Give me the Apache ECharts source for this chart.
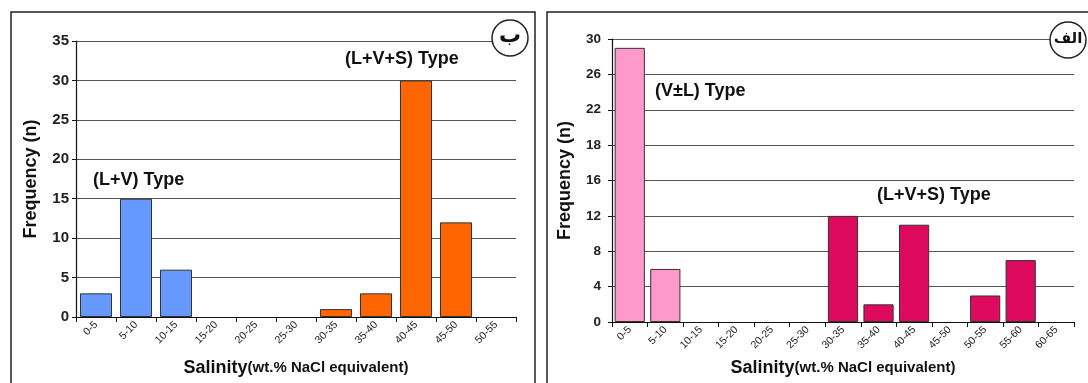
<!DOCTYPE html>
<html><head><meta charset="utf-8">
<script src="https://cdn.jsdelivr.net/npm/echarts@6/dist/echarts.min.js"></script>
<style>html,body{margin:0;padding:0;background:#fff}#c{width:1088px;height:383px}</style>
</head><body><div id="c"></div>
<script>
// Left panel (ب)
const catsB = ['0-5','5-10','10-15','15-20','20-25','25-30','30-35','35-40','40-45','45-50','50-55'];
const lvB   = [3, 15, 6, null, null, null, null, null, null, null, null];      // (L+V) Type
const lvsB  = [null, null, null, null, null, null, 1, 3, 30, 12, null];       // (L+V+S) Type
// Right panel (الف)
const catsA = ['0-5','5-10','10-15','15-20','20-25','25-30','30-35','35-40','40-45','45-50','50-55','55-60','60-65'];
const vlA   = [29, 6, null, null, null, null, null, null, null, null, null, null, null];   // (V±L) Type
const lvsA  = [null, null, null, null, null, null, 12, 2, 11, null, 3, 7, null];          // (L+V+S) Type
const yTicksA = [0, 4, 8, 12, 16, 18, 22, 26, 30];   // right panel's (uneven) tick labels

// right panel's axis is evenly spaced in tick index: map a value onto that scale
function toIdx(v){
  if (v == null) return null;
  for (let i = 0; i < yTicksA.length - 1; i++){
    const a = yTicksA[i], b = yTicksA[i+1];
    if (v >= a && v <= b) return i + (v - a) / (b - a);
  }
  return yTicksA.length - 1;
}

const FONT = '"Liberation Sans", Arial, sans-serif';
const chart = echarts.init(document.getElementById('c'), null, {renderer:'canvas'});

function xAxisCfg(cats, gi, gap){
  return {
    type:'category', gridIndex:gi, data:cats,
    axisLine:{lineStyle:{color:'#111', width:1.2}},
    axisTick:{show:true, alignWithLabel:false, length:5, lineStyle:{color:'#111'}},
    axisLabel:{rotate:45, fontSize:10.5, color:'#222', fontFamily:FONT, margin:6, interval:0},
    name:'{a|Salinity}{b|(wt.% NaCl equivalent)}', nameLocation:'middle', nameGap:gap,
    nameTextStyle:{rich:{
      a:{fontSize:18, fontWeight:'bold', fontFamily:FONT, color:'#111'},
      b:{fontSize:15, fontWeight:'bold', fontFamily:FONT, color:'#111'}}}
  };
}
function yAxisCfg(gi, extra){
  return Object.assign({
    type:'value', gridIndex:gi,
    axisLine:{show:true, lineStyle:{color:'#111', width:1.2}},
    axisTick:{show:true, inside:false, length:4, lineStyle:{color:'#111'}},
    splitLine:{show:true, lineStyle:{color:'#555', width:1}},
    axisLabel:{fontSize:15, fontWeight:'bold', color:'#222', fontFamily:FONT, margin:7},
    name:'Frequency (n)', nameLocation:'middle', nameGap:36,
    nameTextStyle:{fontSize:18, fontWeight:'bold', fontFamily:FONT, color:'#111'}
  }, extra);
}
const barBorder = {borderColor:'#333', borderWidth:1};

chart.setOption({
  animation:false,
  grid:[
    {left:76, right:572, top:41, bottom:66, outerBoundsMode:'none', containLabel:false},
    {left:612, right:14, top:39, bottom:61, outerBoundsMode:'none', containLabel:false}
  ],
  xAxis:[xAxisCfg(catsB,0,42), xAxisCfg(catsA,1,37)],
  yAxis:[
    yAxisCfg(0,{min:0, max:35, interval:5}),
    yAxisCfg(1,{min:0, max:8, interval:1,
      axisLabel:{fontSize:13.5, fontWeight:'bold', color:'#222', fontFamily:FONT, margin:11,
        formatter:(v)=> String(yTicksA[Math.round(v)])},
      nameGap:38})
  ],
  series:[
    {type:'bar', name:'(L+V) Type', xAxisIndex:0, yAxisIndex:0, data:lvB, barCategoryGap:'20%', barGap:'-100%',
      itemStyle:Object.assign({color:'#6699FF'}, barBorder)},
    {type:'bar', name:'(L+V+S) Type', xAxisIndex:0, yAxisIndex:0, data:lvsB, barCategoryGap:'20%', barGap:'-100%',
      itemStyle:Object.assign({color:'#FF6600'}, barBorder)},
    {type:'bar', name:'(V±L) Type', xAxisIndex:1, yAxisIndex:1, data:vlA.map(toIdx), barCategoryGap:'15%', barGap:'-100%',
      itemStyle:Object.assign({color:'#FF99CC'}, barBorder)},
    {type:'bar', name:'(L+V+S) Type', xAxisIndex:1, yAxisIndex:1, data:lvsA.map(toIdx), barCategoryGap:'15%', barGap:'-100%',
      itemStyle:Object.assign({color:'#DE0A5E'}, barBorder)}
  ],
  graphic:[
    // panel frames
    {type:'polyline', shape:{points:[[11,383],[11,12],[535,12],[535,383]]}, style:{stroke:'#222', lineWidth:1.5, fill:null}, silent:true},
    {type:'polyline', shape:{points:[[547,383],[547,12],[1088,12]]}, style:{stroke:'#222', lineWidth:1.5, fill:null}, silent:true},
    // panel markers
    {type:'circle', shape:{cx:510, cy:38, r:18}, style:{fill:'#fff', stroke:'#222', lineWidth:1.5}, z:100},
    {type:'text', x:510, y:36, z:101, style:{text:'ب', fontSize:22, fontWeight:'bold', fontFamily:'"DejaVu Sans", sans-serif', fill:'#111', align:'center', verticalAlign:'middle'}},
    {type:'circle', shape:{cx:1068, cy:40, r:18}, style:{fill:'#fff', stroke:'#222', lineWidth:1.5}, z:100},
    {type:'text', x:1068, y:39, z:101, style:{text:'الف', fontSize:15, fontWeight:'bold', fontFamily:'"DejaVu Sans", sans-serif', fill:'#111', align:'center', verticalAlign:'middle'}},
    // annotations
    {type:'text', x:93, y:180, z:50, style:{text:'(L+V) Type', fontSize:18, fontWeight:'bold', fontFamily:FONT, fill:'#111', verticalAlign:'middle'}},
    {type:'text', x:345, y:59, z:50, style:{text:'(L+V+S) Type', fontSize:18, fontWeight:'bold', fontFamily:FONT, fill:'#111', verticalAlign:'middle'}},
    {type:'text', x:655, y:91, z:50, style:{text:'(V±L) Type', fontSize:18, fontWeight:'bold', fontFamily:FONT, fill:'#111', verticalAlign:'middle'}},
    {type:'text', x:877, y:195, z:50, style:{text:'(L+V+S) Type', fontSize:18, fontWeight:'bold', fontFamily:FONT, fill:'#111', verticalAlign:'middle'}}
  ]
});
</script></body></html>
